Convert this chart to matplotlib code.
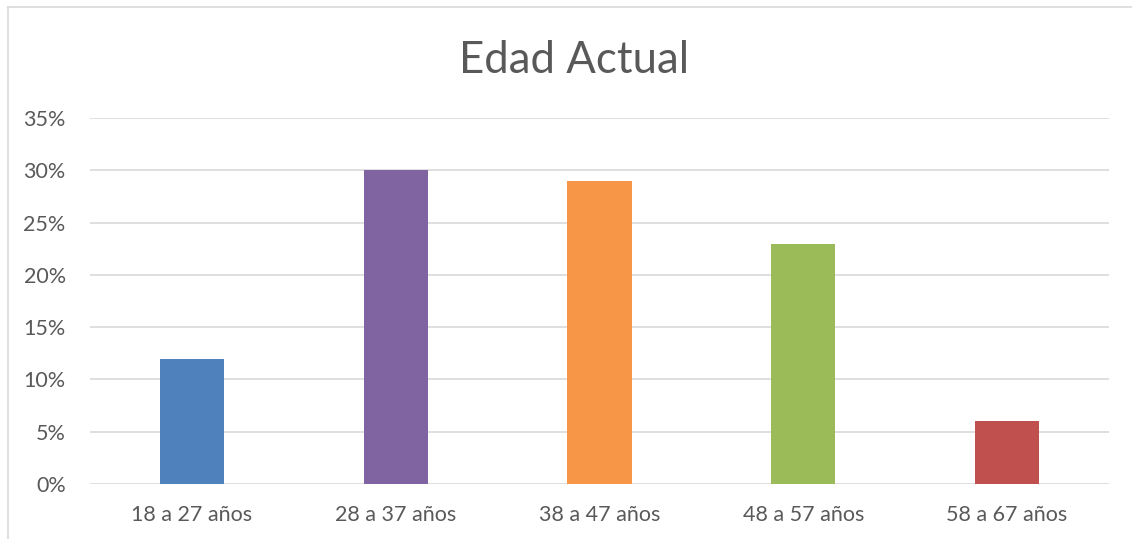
import matplotlib.pyplot as plt
from matplotlib.ticker import PercentFormatter
from matplotlib.lines import Line2D

plt.rcParams['font.family'] = ['Lato', 'DejaVu Sans']

# data
categories = ['18 a 27 años', '28 a 37 años', '38 a 47 años', '48 a 57 años', '58 a 67 años']
values = [12, 30, 29, 23, 6]
colors = ['#4F81BD', '#8064A2', '#F79646', '#9BBB59', '#C0504D']
yticks = [0, 5, 10, 15, 20, 25, 30, 35]

fig = plt.figure(figsize=(11.32, 5.39), dpi=100)
ax = fig.add_axes([0.0795, 0.102, 0.9002, 0.679])

x = range(len(categories))
ax.bar(x, values, width=0.315, color=colors, zorder=3)

ax.set_xlim(-0.5, len(categories) - 0.5)
ax.set_ylim(0, 35)
ax.set_yticks(yticks)
ax.yaxis.set_major_formatter(PercentFormatter(decimals=0))
ax.set_xticks(list(x))
ax.set_xticklabels(categories)

ax.grid(axis='y', color='#D9D9D9', linewidth=1.2, zorder=0)
for s in ax.spines.values():
    s.set_visible(False)
ax.tick_params(length=0, labelsize=15.5, colors='#595959')
ax.tick_params(axis='y', pad=17.5)
ax.tick_params(axis='x', pad=15)

fig.text(0.507, 0.888, 'Edad Actual', ha='center', va='center', fontsize=31.5, color='#595959')

# chart border (left and top visible)
fig.add_artist(Line2D([8 / 1132, 8 / 1132], [0, 1 - 7 / 539], transform=fig.transFigure,
                      color='#D9D9D9', linewidth=1.2))
fig.add_artist(Line2D([8 / 1132, 1], [1 - 7 / 539, 1 - 7 / 539], transform=fig.transFigure,
                      color='#D9D9D9', linewidth=1.2))

plt.savefig('out.png', dpi=100)
